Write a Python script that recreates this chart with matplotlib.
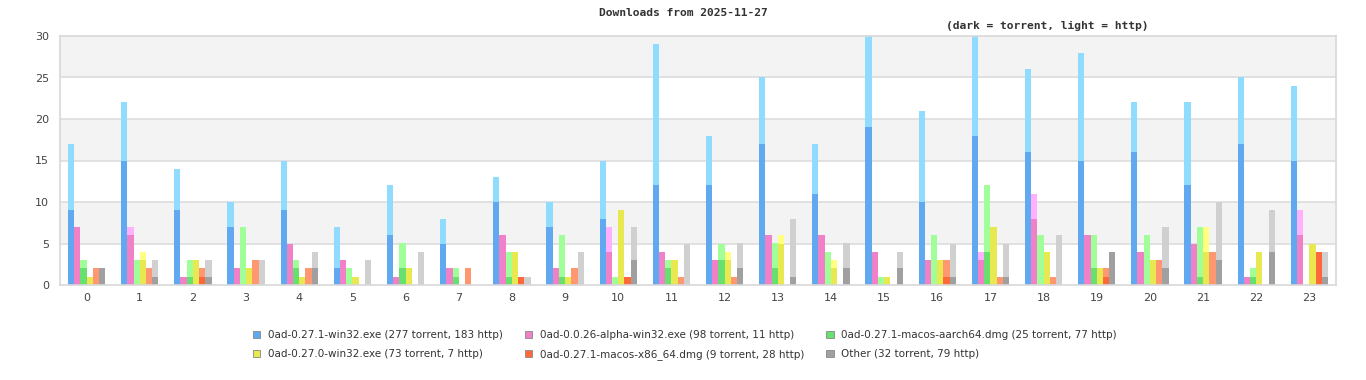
import matplotlib
matplotlib.use("Agg")
import matplotlib.pyplot as plt
from matplotlib.patches import Patch

hours = list(range(24))

series_names = [
    "0ad-0.27.1-win32.exe",
    "0ad-0.0.26-alpha-win32.exe",
    "0ad-0.27.1-macos-aarch64.dmg",
    "0ad-0.27.0-win32.exe",
    "0ad-0.27.1-macos-x86_64.dmg",
    "Other",
]

win32_torrent = [9, 15, 9, 7, 9, 2, 6, 5, 10, 7, 8, 12, 12, 17, 11, 19, 10, 18, 16, 15, 16, 12, 17, 15]
win32_http = [8, 7, 5, 3, 6, 5, 6, 3, 3, 3, 7, 17, 6, 8, 6, 11, 11, 12, 10, 13, 6, 10, 8, 9]
alpha_torrent = [7, 6, 1, 2, 5, 3, 1, 2, 6, 2, 4, 4, 3, 6, 6, 4, 3, 3, 8, 6, 4, 5, 1, 6]
alpha_http = [0, 1, 0, 0, 0, 0, 0, 0, 0, 0, 3, 0, 0, 0, 0, 0, 0, 1, 3, 0, 0, 0, 0, 3]
aarch_torrent = [2, 0, 1, 0, 2, 0, 2, 1, 1, 1, 0, 2, 3, 2, 0, 0, 0, 4, 0, 2, 0, 1, 1, 0]
aarch_http = [1, 3, 2, 7, 1, 2, 3, 1, 3, 5, 1, 1, 2, 3, 4, 1, 6, 8, 6, 4, 6, 6, 1, 0]
w270_torrent = [1, 3, 3, 2, 1, 1, 2, 0, 4, 1, 9, 3, 3, 5, 2, 1, 3, 7, 4, 2, 3, 4, 4, 5]
w270_http = [0, 1, 0, 0, 0, 0, 0, 0, 0, 0, 0, 0, 1, 1, 1, 0, 0, 0, 0, 0, 0, 3, 0, 0]
x86_torrent = [0, 0, 1, 0, 0, 0, 0, 0, 1, 0, 1, 0, 0, 0, 0, 0, 1, 0, 0, 1, 0, 0, 0, 4]
x86_http = [2, 2, 1, 3, 2, 0, 0, 2, 0, 2, 0, 1, 1, 0, 0, 0, 2, 1, 1, 1, 3, 4, 0, 0]
other_torrent = [2, 1, 1, 0, 2, 0, 0, 0, 0, 0, 3, 0, 2, 1, 2, 2, 1, 1, 0, 4, 2, 3, 4, 1]
other_http = [0, 2, 2, 3, 2, 3, 4, 0, 1, 4, 4, 5, 3, 7, 3, 2, 4, 4, 6, 0, 5, 7, 5, 3]

torrent = [win32_torrent, alpha_torrent, aarch_torrent, w270_torrent, x86_torrent, other_torrent]
http = [win32_http, alpha_http, aarch_http, w270_http, x86_http, other_http]

dark_colors = ["#60a8f0", "#f080c8", "#68e070", "#e8e850", "#ff6838", "#a0a0a0"]
light_colors = ["#90dcff", "#ffb0ff", "#a0ff98", "#ffff80", "#ff9870", "#d0d0d0"]

yticks = [0, 5, 10, 15, 20, 25, 30]

fig = plt.figure(figsize=(13.66, 3.8), dpi=100)
ax = fig.add_axes([60 / 1366, 1 - 285 / 380, 1276 / 1366, 249 / 380])

# stripes
for lo in (5, 15, 25):
    ax.axhspan(lo, lo + 5, color="#f3f3f3", zorder=0, lw=0)
for y in yticks[1:-1]:
    ax.axhline(y, color="#dddddd", lw=1.2, zorder=1)

w = 0.117
n = len(series_names)
for i in range(n):
    xs = [h + (i - (n - 1) / 2) * w for h in hours]
    ax.bar(xs, torrent[i], width=w, color=dark_colors[i], zorder=2, lw=0)
    ax.bar(xs, http[i], width=w, bottom=torrent[i], color=light_colors[i], zorder=2, lw=0)

ax.set_xlim(-0.5, 23.5)
ax.set_ylim(0, 30)
ax.set_xticks(hours)
ax.set_xticklabels([str(h) for h in hours])
ax.set_yticks(yticks)
ax.tick_params(length=0, labelsize=8, colors="#444444", pad=6)
ax.tick_params(axis="y", pad=8)
for s in ax.spines.values():
    s.set_color("#d8d8d8")
    s.set_linewidth(1.2)

fig.text(683 / 1366, 1 - 13 / 380, "Downloads from 2025-11-27", ha="center", va="center",
         family="DejaVu Sans Mono", fontweight="bold", fontsize=8.1, color="#333333")
fig.text(1047 / 1366, 1 - 26 / 380, "(dark = torrent, light = http)", ha="center", va="center",
         family="DejaVu Sans Mono", fontweight="bold", fontsize=8.1, color="#333333")

labels = [
    f"{series_names[i]} ({sum(torrent[i])} torrent, {sum(http[i])} http)" for i in range(n)
]
handles = [Patch(facecolor=dark_colors[i], edgecolor="#888888", lw=0.6) for i in range(n)]
order = [0, 3, 1, 4, 2, 5]
leg = fig.legend([handles[k] for k in order], [labels[k] for k in order], ncol=3,
                 loc="center", bbox_to_anchor=(685 / 1366, 1 - 345 / 380), frameon=False,
                 prop={"family": "DejaVu Sans", "size": 7.5}, handlelength=0.7, handleheight=0.7,
                 handletextpad=0.75, columnspacing=2.1, labelspacing=0.85)
for t in leg.get_texts():
    t.set_color("#333333")

fig.savefig("out.png", dpi=100)
